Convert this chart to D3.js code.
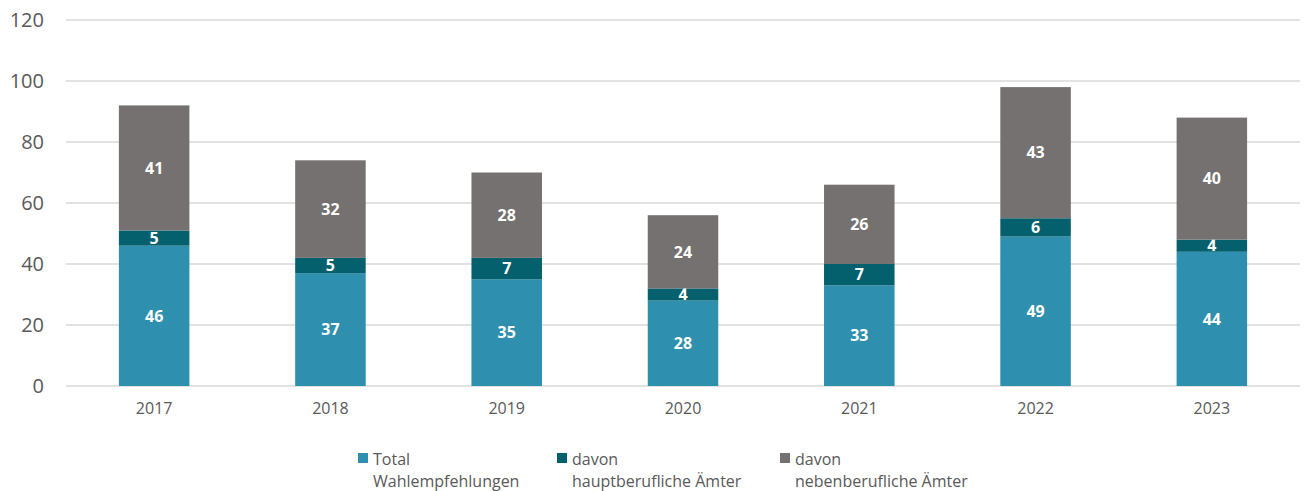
<!DOCTYPE html>
<html>
<head>
<meta charset="utf-8">
<script src="https://cdn.jsdelivr.net/npm/d3@7"></script>
<style>
  body { margin: 0; background: #fff; }
  text { font-family: "Open Sans", "Noto Sans", sans-serif; }
</style>
</head>
<body>
<div id="chart"></div>
<script>
// chart data
var years = ["2017", "2018", "2019", "2020", "2021", "2022", "2023"];
var total = [46, 37, 35, 28, 33, 49, 44];
var haupt = [5, 5, 7, 4, 7, 6, 4];
var neben = [41, 32, 28, 24, 26, 43, 40];
var seriesNames = ["Total\nWahlempfehlungen", "davon\nhauptberufliche Ämter", "davon\nnebenberufliche Ämter"];
var yTicks = [0, 20, 40, 60, 80, 100, 120];

var colors = ["#2E8FAE", "#05606E", "#767171"];
var width = 1306, height = 491;

var svg = d3.select("#chart").append("svg")
    .attr("width", width)
    .attr("height", height);

// scales
var x = d3.scaleBand().domain(years).range([66, 1300])
    .paddingInner(0.6).paddingOuter(0.3);
var y = d3.scaleLinear().domain([0, 120]).range([386, 20]);

// gridlines
svg.append("g").selectAll("line")
    .data(yTicks)
    .enter().append("line")
    .attr("x1", 66).attr("x2", 1300)
    .attr("y1", d => y(d)).attr("y2", d => y(d))
    .style("stroke", "#D9D9D9")
    .style("stroke-width", 1.3);

// y axis labels
var yAxis = svg.append("g")
    .attr("transform", "translate(50,0)")
    .call(d3.axisLeft(y).tickValues(yTicks).tickSize(0).tickPadding(6));
yAxis.select(".domain").remove();
yAxis.selectAll("text")
    .style("font-size", "20px")
    .style("fill", "#595959")
    .style("font-family", "'Open Sans', sans-serif");

// stacked data
var rows = years.map(function (yr, i) {
    return { year: yr, total: total[i], haupt: haupt[i], neben: neben[i] };
});
var keys = ["total", "haupt", "neben"];
var stacked = d3.stack().keys(keys)(rows);

var layers = svg.append("g").selectAll("g")
    .data(stacked)
    .enter().append("g")
    .style("fill", (d, i) => colors[i]);

layers.selectAll("rect")
    .data(d => d)
    .enter().append("rect")
    .attr("x", d => x(d.data.year))
    .attr("width", x.bandwidth())
    .attr("y", d => y(d[1]))
    .attr("height", d => y(d[0]) - y(d[1]));

layers.selectAll("text")
    .data(d => d)
    .enter().append("text")
    .attr("x", d => x(d.data.year) + x.bandwidth() / 2)
    .attr("y", d => (y(d[0]) + y(d[1])) / 2)
    .attr("dy", "0.36em")
    .attr("text-anchor", "middle")
    .style("fill", "#fff")
    .style("font-weight", "bold")
    .style("font-size", "16px")
    .text(d => d[1] - d[0]);

// x axis
var xAxis = svg.append("g")
    .attr("transform", "translate(0,386)")
    .call(d3.axisBottom(x).tickSize(0).tickPadding(17));
xAxis.select(".domain").remove();
xAxis.selectAll("text")
    .style("font-size", "16px")
    .style("fill", "#595959")
    .style("font-family", "'Open Sans', sans-serif");

// legend
var legendX = [358, 557, 780];
var legend = svg.append("g").selectAll("g")
    .data(seriesNames)
    .enter().append("g")
    .attr("transform", (d, i) => "translate(" + legendX[i] + ",453)");

legend.append("rect")
    .attr("width", 10).attr("height", 10)
    .style("fill", (d, i) => colors[i]);

legend.append("text")
    .attr("x", 15)
    .attr("y", 12)
    .style("font-size", "16px")
    .style("fill", "#595959")
    .selectAll("tspan")
    .data(d => d.split("\n"))
    .enter().append("tspan")
    .attr("x", 15)
    .attr("dy", (d, i) => i === 0 ? 0 : 22)
    .text(d => d);
</script>
</body>
</html>
